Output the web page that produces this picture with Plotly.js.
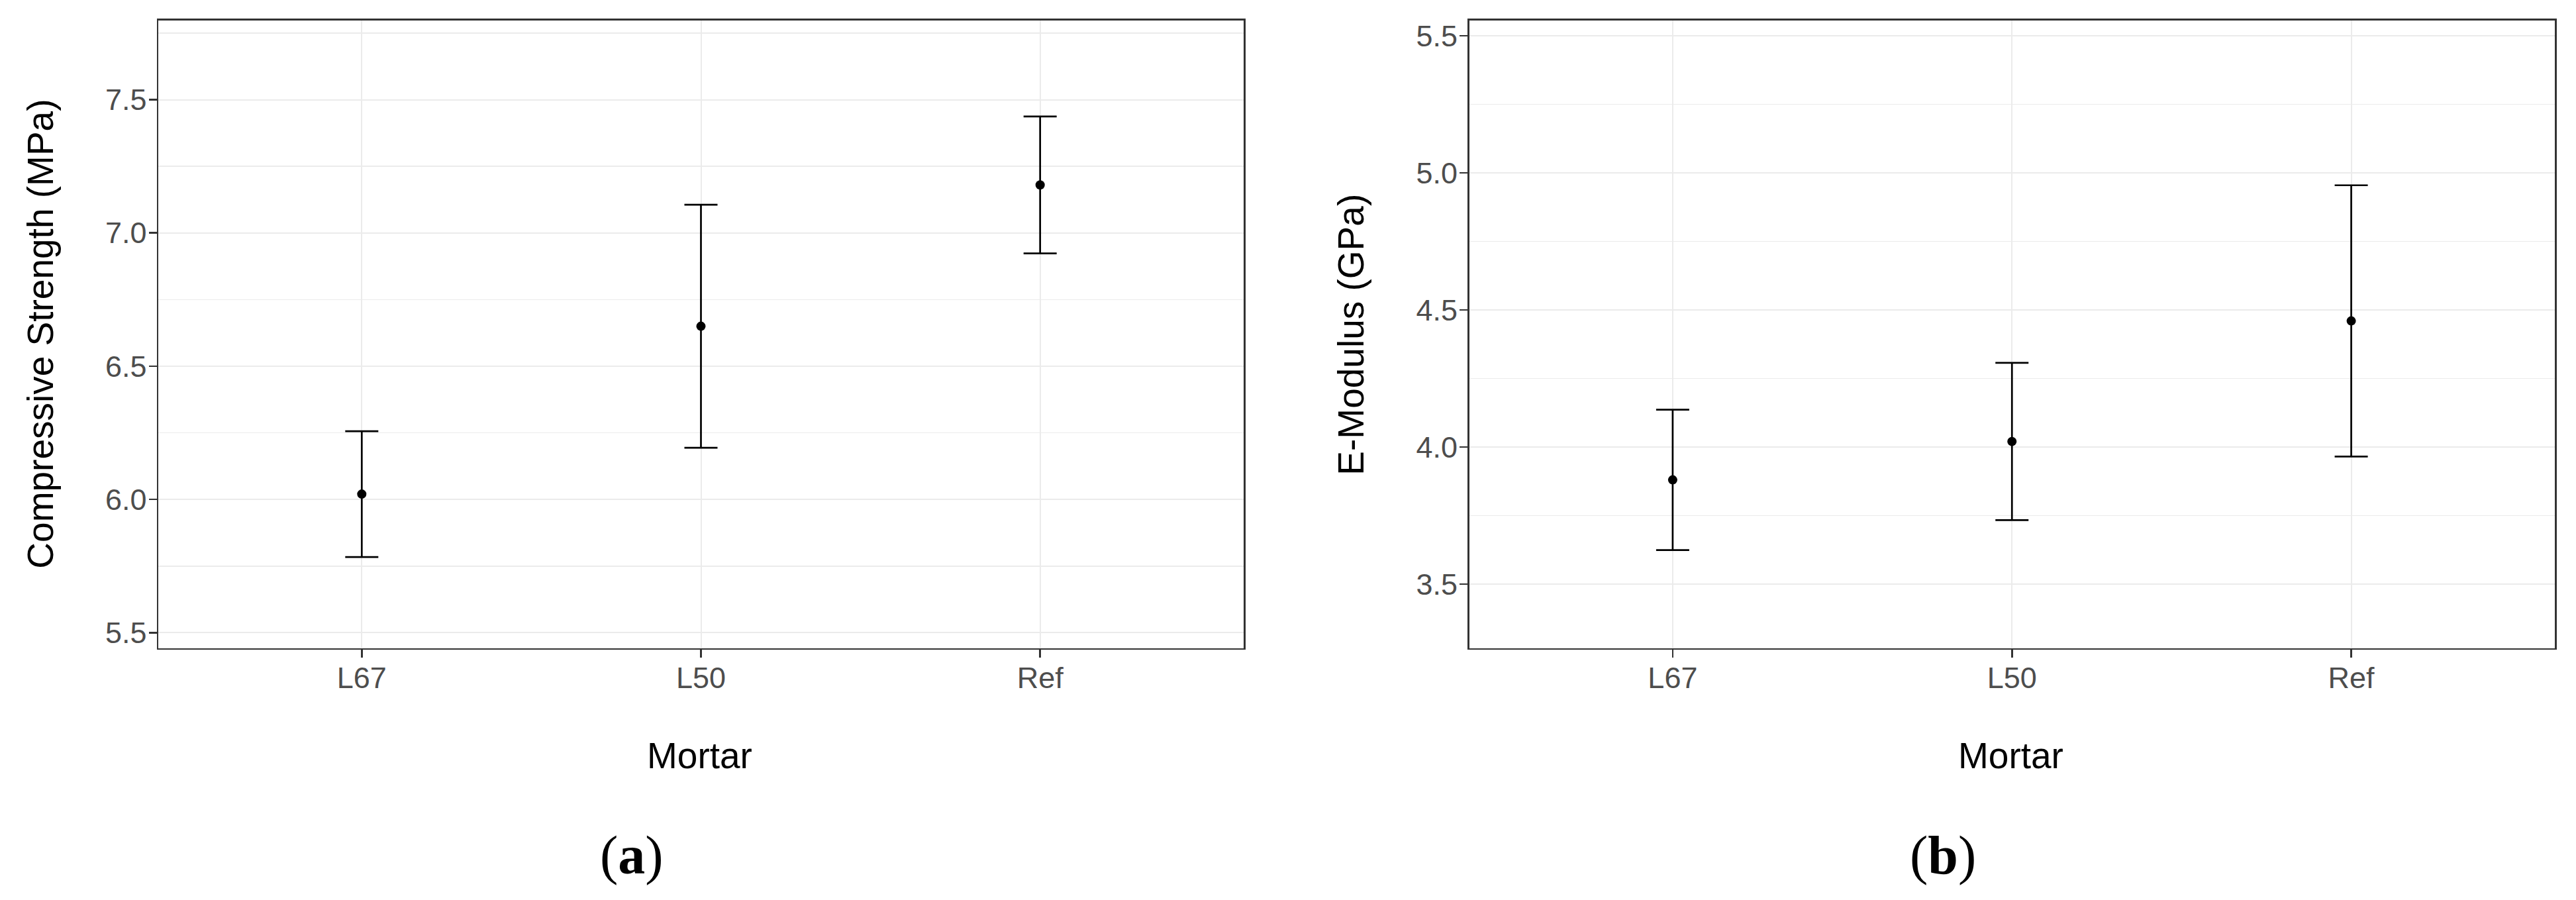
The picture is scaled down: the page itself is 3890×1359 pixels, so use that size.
<!DOCTYPE html>
<html>
<head>
<meta charset="utf-8">
<script src="https://cdn.plot.ly/plotly-3.0.1.min.js"></script>
<style>
  html, body { margin: 0; padding: 0; background: #ffffff; }
  #chart { width: 3890px; height: 1359px; }
</style>
</head>
<body>
<div id="chart"></div>
<script>
// ---- data ----
var mortars = ['L67', 'L50', 'Ref'];
var strengthMean = [6.02, 6.65, 7.18];
var strengthErr = [0.236, 0.456, 0.257];
var modulusMean = [3.88, 4.02, 4.46];
var modulusErr = [0.256, 0.287, 0.495];
var strengthTicks = [5.5, 6.0, 6.5, 7.0, 7.5];
var strengthTickText = ['5.5', '6.0', '6.5', '7.0', '7.5'];
var modulusTicks = [3.5, 4.0, 4.5, 5.0, 5.5];
var modulusTickText = ['3.5', '4.0', '4.5', '5.0', '5.5'];
var yTitleA = 'Compressive Strength (MPa)';
var yTitleB = 'E-Modulus (GPa)';
var xTitle = 'Mortar';
var captionA = '(<b>a</b>)';
var captionB = '(<b>b</b>)';

// ---- styling ----
var W = 3890, H = 1359;
var sansFont = 'Liberation Sans, Arial, sans-serif';
var serifFont = 'Liberation Serif, Times New Roman, serif';
var tickFont = {family: sansFont, size: 45, color: '#4D4D4D'};
var titleFont = {family: sansFont, size: 55, color: '#000000'};
var gridColor = '#EBEBEB';
var frameColor = '#333333';

function px(x) { return x / W; }
function py(y) { return 1 - y / H; }

var plotTop = 30.6, plotBottom = 978.7;
var domA = [px(239), px(1878)];
var domB = [px(2218.5), px(3858)];
var domY = [py(plotBottom), py(plotTop)];

function pointTrace(means, errs, xa, ya) {
  return {
    type: 'scatter',
    mode: 'markers',
    x: mortars,
    y: means,
    xaxis: xa,
    yaxis: ya,
    marker: {color: '#000000', size: 14},
    error_y: {
      type: 'data',
      array: errs,
      visible: true,
      color: '#000000',
      thickness: 2.7,
      width: 25
    },
    hoverinfo: 'x+y'
  };
}

function xAxis(domain, anchor) {
  return {
    domain: domain,
    anchor: anchor,
    type: 'category',
    categoryorder: 'array',
    categoryarray: mortars,
    range: [-0.6, 2.6],
    showgrid: true,
    gridcolor: gridColor,
    gridwidth: 2,
    zeroline: false,
    showline: true,
    mirror: true,
    linecolor: frameColor,
    linewidth: 2.5,
    ticks: 'outside',
    ticklen: 12,
    tickwidth: 2.5,
    tickcolor: frameColor,
    tickfont: tickFont,
    ticklabelstandoff: -8,
    fixedrange: true
  };
}

function yAxis(domain, anchor, range, tv, tt) {
  return {
    domain: domain,
    anchor: anchor,
    range: range,
    tickmode: 'array',
    tickvals: tv,
    ticktext: tt,
    showgrid: true,
    gridcolor: gridColor,
    gridwidth: 2,
    minor: {
      tickmode: 'linear',
      tick0: 0,
      dtick: 0.25,
      showgrid: true,
      gridcolor: gridColor,
      gridwidth: 1.6,
      ticks: ''
    },
    zeroline: false,
    showline: true,
    mirror: true,
    linecolor: frameColor,
    linewidth: 2.5,
    ticks: 'outside',
    ticklen: 12,
    tickwidth: 2.5,
    tickcolor: frameColor,
    tickfont: tickFont,
    ticklabelstandoff: -6,
    fixedrange: true
  };
}

var data = [
  pointTrace(strengthMean, strengthErr, 'x', 'y'),
  pointTrace(modulusMean, modulusErr, 'x2', 'y2')
];

var plotMidY = py((plotTop + plotBottom) / 2);

var layout = {
  width: W,
  height: H,
  margin: {l: 0, r: 0, t: 0, b: 0, pad: 0},
  paper_bgcolor: '#ffffff',
  plot_bgcolor: '#ffffff',
  showlegend: false,
  xaxis: xAxis(domA, 'y'),
  yaxis: yAxis(domY, 'x', [5.442, 7.798], strengthTicks, strengthTickText),
  xaxis2: xAxis(domB, 'y2'),
  yaxis2: yAxis(domY, 'x2', [3.266, 5.557], modulusTicks, modulusTickText),
  annotations: [
    {text: yTitleA, xref: 'paper', yref: 'paper', x: px(61), y: plotMidY,
     xanchor: 'center', yanchor: 'middle', textangle: -90, showarrow: false, font: titleFont},
    {text: yTitleB, xref: 'paper', yref: 'paper', x: px(2040), y: plotMidY,
     xanchor: 'center', yanchor: 'middle', textangle: -90, showarrow: false, font: titleFont},
    {text: xTitle, xref: 'paper', yref: 'paper', x: px(1056), y: py(1141),
     xanchor: 'center', yanchor: 'middle', showarrow: false, font: titleFont},
    {text: xTitle, xref: 'paper', yref: 'paper', x: px(3036), y: py(1141),
     xanchor: 'center', yanchor: 'middle', showarrow: false, font: titleFont},
    {text: captionA, xref: 'paper', yref: 'paper', x: px(954), y: py(1291),
     xanchor: 'center', yanchor: 'middle', showarrow: false,
     font: {family: serifFont, size: 82, color: '#000000'}},
    {text: captionB, xref: 'paper', yref: 'paper', x: px(2934), y: py(1291),
     xanchor: 'center', yanchor: 'middle', showarrow: false,
     font: {family: serifFont, size: 82, color: '#000000'}}
  ]
};

Plotly.newPlot('chart', data, layout, {displayModeBar: false, staticPlot: true});
</script>
</body>
</html>
